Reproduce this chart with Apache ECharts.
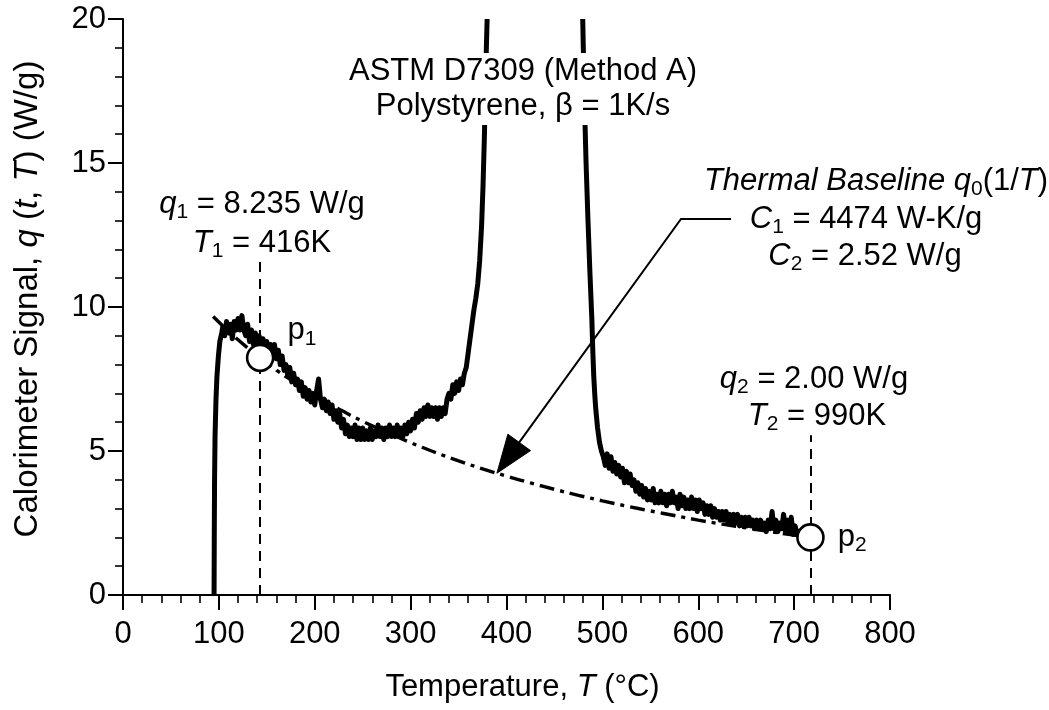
<!DOCTYPE html>
<html>
<head>
<meta charset="utf-8">
<script src="https://cdn.jsdelivr.net/npm/echarts@6/dist/echarts.min.js"></script>
<style>
  html, body { margin: 0; padding: 0; background: #ffffff; }
  #chart { width: 1049px; height: 710px; }
</style>
</head>
<body>
<div id="chart"></div>
<script>
// Calorimeter signal of polystyrene (ASTM D7309, Method A, 1 K/s).
// Signal up to the left flank of the decomposition peak: [T (°C), q (W/g)]
const signalBeforePeak = [
  [95, 0], [95.2, 2.0], [95.5, 4.0], [96, 5.5], [97, 6.8], [98, 7.6], [99.5, 8.3], [101, 8.8], [103, 9.1],
  [104, 9.3], [106, 9.0], [108, 9.5], [110, 9.1], [112, 9.4], [114, 8.9], [116, 9.5], [118, 9.2],
  [120, 9.6], [122, 9.2], [124, 9.7], [126, 9.2], [128, 9.0], [130, 9.4], [132, 8.8], [134, 9.2],
  [136, 8.7], [138, 9.1], [140, 8.6], [142, 9.0], [144, 8.5], [146, 8.9], [148, 8.4], [150, 8.8],
  [152, 8.4], [154, 8.7], [156, 8.3], [158, 8.7], [160, 8.2], [162, 8.5], [164, 8.0], [166, 8.3],
  [168, 7.8], [170, 8.0], [172, 7.6], [174, 7.9], [176, 7.4], [178, 7.7], [180, 7.3], [182, 7.5],
  [184, 7.1], [186, 7.4], [188, 6.9], [190, 7.2], [192, 6.8], [194, 7.1], [196, 6.7], [198, 7.0],
  [200, 6.6], [202, 7.1], [204, 7.5], [206, 6.8], [208, 6.5], [210, 6.8], [212, 6.4], [214, 6.7],
  [216, 6.3], [218, 6.6], [220, 6.1], [222, 6.4], [224, 6.0], [226, 6.3], [228, 5.8], [230, 6.1],
  [232, 5.6], [234, 5.9], [236, 5.5], [238, 5.8], [240, 5.5], [242, 5.9], [244, 5.4], [246, 5.8],
  [248, 5.4], [250, 5.8], [252, 5.4], [254, 5.7], [256, 5.4], [258, 5.8], [260, 5.4], [262, 5.7],
  [264, 5.5], [266, 5.9], [268, 5.5], [270, 5.8], [272, 5.4], [274, 5.8], [276, 5.5], [278, 5.9],
  [280, 5.5], [282, 5.8], [284, 5.5], [286, 5.9], [288, 5.5], [290, 5.8], [292, 5.5], [294, 5.9],
  [296, 5.6], [298, 6.0], [300, 5.7], [302, 6.1], [304, 5.8], [306, 6.3], [308, 6.0], [310, 6.4],
  [312, 6.1], [314, 6.5], [316, 6.2], [318, 6.6], [320, 6.2], [322, 6.5], [324, 6.2], [326, 6.5],
  [328, 6.1], [330, 6.5], [332, 6.2], [334, 6.5], [336, 6.3], [338, 6.8], [340, 7.0], [342, 6.8],
  [344, 7.3], [346, 7.0], [348, 7.4], [350, 7.1], [352, 7.5], [354, 7.3], [356, 7.7], [358, 7.9],
  [360, 8.4], [362, 8.9], [364, 9.4], [366, 9.9], [368, 10.3], [370, 10.8], [372, 11.6],
  [374, 12.8], [375.5, 14.2], [377, 16.0], [378, 17.6], [379, 19.0], [379.8, 20]
];

// Signal from the right flank of the peak to the end of the run
const signalAfterPeak = [
  [479.5, 20], [481, 17.5], [483, 15.0], [485, 13.0], [487, 11.2], [489, 9.6], [490, 8.5],
  [491, 7.6], [492, 7.0], [493, 6.5], [495, 5.8], [497, 5.3], [499, 5.0], [501, 4.8], [503, 4.5],
  [505, 4.9], [507, 4.4], [509, 4.8], [511, 4.3], [513, 4.6], [515, 4.2], [517, 4.5], [519, 4.1],
  [521, 4.4], [523, 3.9], [525, 4.3], [527, 3.9], [529, 4.2], [531, 3.8], [533, 4.0], [535, 3.6],
  [537, 3.9], [539, 3.5], [541, 3.8], [543, 3.4], [545, 3.7], [547, 3.3], [549, 3.6], [551, 3.3],
  [553, 3.7], [555, 3.2], [557, 3.5], [559, 3.2], [561, 3.6], [563, 3.2], [565, 3.5], [567, 3.1],
  [569, 3.5], [571, 3.2], [573, 3.6], [575, 3.2], [577, 3.4], [579, 3.0], [581, 3.5], [583, 3.1],
  [585, 3.4], [587, 3.0], [589, 3.3], [591, 3.0], [593, 3.4], [595, 3.0], [597, 3.3], [599, 2.9],
  [601, 3.3], [603, 3.0], [605, 3.2], [607, 2.8], [609, 3.1], [611, 2.8], [613, 3.1], [615, 2.7],
  [617, 3.0], [619, 2.7], [621, 2.9], [623, 2.6], [625, 2.9], [627, 2.6], [629, 2.9], [631, 2.5],
  [633, 2.8], [635, 2.5], [637, 2.8], [639, 2.5], [641, 2.8], [643, 2.4], [645, 2.7], [647, 2.4],
  [649, 2.7], [651, 2.4], [653, 2.7], [655, 2.4], [657, 2.6], [659, 2.3], [661, 2.6], [663, 2.3],
  [665, 2.6], [667, 2.3], [669, 2.5], [671, 2.2], [673, 2.6], [675, 2.3], [677, 2.9], [679, 2.3],
  [681, 2.6], [683, 2.2], [685, 2.5], [687, 2.3], [689, 2.8], [691, 2.2], [693, 2.6], [695, 2.2],
  [697, 2.7], [699, 2.1], [701, 2.4], [703, 2.1], [705, 2.3]
];

// Thermal baseline q0(1/T): [T (°C), q0 (W/g)]
const thermalBaseline = [
  [94, 9.67], [110, 9.16], [125, 8.72], [143, 8.235], [160, 7.81], [180, 7.36], [200, 6.94],
  [225, 6.46], [250, 6.03], [275, 5.66], [300, 5.29], [325, 4.96], [350, 4.66], [375, 4.38],
  [400, 4.13], [425, 3.89], [450, 3.67], [475, 3.46], [500, 3.27], [525, 3.09], [550, 2.92],
  [575, 2.76], [600, 2.60], [625, 2.46], [650, 2.33], [675, 2.20], [700, 2.08], [717, 2.00]
];

// Reference points p1 (T1 = 416 K) and p2 (T2 = 990 K) on the baseline
const refPoints = [
  { name: '1', value: [143, 8.235] },
  { name: '2', value: [717, 2.00] }
];

// Point on the baseline that the arrow indicates
const arrowTarget = [390, 4.23];

const xTicks = { min: 0, max: 800, interval: 100 };
const yTicks = { min: 0, max: 20, interval: 5 };

const FONT = "'Liberation Sans', Arial, Helvetica, sans-serif";
const FS = 31;
const SUB = 21;

function richSet(size, sub) {
  return {
    n: { fontFamily: FONT, fontSize: size, color: '#000', lineHeight: size + 6 },
    i: { fontFamily: FONT, fontSize: size, fontStyle: 'italic', color: '#000', lineHeight: size + 6 },
    s: { fontFamily: FONT, fontSize: sub, color: '#000', lineHeight: sub, verticalAlign: 'bottom' }
  };
}
const richStyles = richSet(FS, SUB);

const chart = echarts.init(document.getElementById('chart'), null, { renderer: 'canvas' });

const axisCommon = {
  axisLine: { show: true, onZero: false, lineStyle: { color: '#000', width: 2 } },
  axisTick: { show: true, inside: false, length: 15, lineStyle: { color: '#000', width: 2 } },
  minorTick: { show: true, splitNumber: 5, length: 8, lineStyle: { color: '#000', width: 1.6 } },
  splitLine: { show: false },
  axisLabel: { color: '#000', fontFamily: FONT, fontSize: 31 }
};

const guideLine = {
  symbol: 'none',
  silent: true,
  label: { show: false },
  lineStyle: { color: '#000', width: 2, type: [10, 7] }
};

const signalStyle = { color: '#000', width: 5, join: 'round', cap: 'butt' };

chart.setOption({
  animation: false,
  backgroundColor: '#ffffff',
  grid: { left: 123, right: 159, top: 19, bottom: 115, containLabel: false, outerBoundsMode: 'none' },
  xAxis: Object.assign({}, axisCommon, {
    type: 'value',
    min: xTicks.min, max: xTicks.max, interval: xTicks.interval,
    axisLabel: Object.assign({}, axisCommon.axisLabel, { margin: 24 }),
    name: 'Temperature, {i|T} (°C)',
    nameLocation: 'middle',
    nameGap: 74,
    nameTextStyle: { fontFamily: FONT, fontSize: 31, color: '#000', rich: richSet(31, 21), padding: [0, 0, 0, 32] }
  }),
  yAxis: Object.assign({}, axisCommon, {
    type: 'value',
    min: yTicks.min, max: yTicks.max, interval: yTicks.interval,
    axisLabel: Object.assign({}, axisCommon.axisLabel, { margin: 17 }),
    name: 'Calorimeter Signal, {i|q} ({i|t}, {i|T}) (W/g)',
    nameLocation: 'middle',
    nameRotate: 90,
    nameGap: 76,
    nameTextStyle: { fontFamily: FONT, fontSize: 33, color: '#000', rich: richSet(33, 22), padding: [0, 0, 0, 16] }
  }),
  series: [
    {
      name: 'baseline',
      type: 'line',
      data: thermalBaseline,
      showSymbol: false,
      smooth: true,
      z: 2,
      lineStyle: { color: '#000', width: 3.4, type: [15, 6, 4, 6] },
      markLine: Object.assign({}, guideLine, {
        data: [
          [{ coord: [143, 0] }, { coord: [143, 11.6] }],
          [{ coord: [717, 0] }, { coord: [717, 5.55] }]
        ]
      })
    },
    { name: 'signal', type: 'line', data: signalBeforePeak, showSymbol: false, z: 3, lineStyle: signalStyle },
    { name: 'signal', type: 'line', data: signalAfterPeak, showSymbol: false, z: 3, lineStyle: signalStyle },
    {
      name: 'points',
      type: 'scatter',
      data: refPoints,
      symbol: 'circle',
      symbolSize: 26,
      z: 5,
      itemStyle: { color: '#ffffff', borderColor: '#000', borderWidth: 2.6, opacity: 1 },
      label: {
        show: true,
        position: 'right',
        distance: 13,
        formatter: function (p) { return '{n|p}{s|' + p.name + '}'; },
        rich: richStyles
      },
      labelLayout: function (p) {
        return p.dataIndex === 0 ? { dy: -27 } : {};
      }
    }
  ],
  graphic: [
    // white box that the title sits on
    {
      type: 'rect', z: 9, silent: true,
      shape: { x: 346, y: 53, width: 356, height: 72 },
      style: { fill: '#ffffff' }
    },
    {
      type: 'text', x: 523, y: 71, z: 10,
      style: { text: 'ASTM D7309 (Method A)', font: FS + 'px ' + FONT, fill: '#000', align: 'center', verticalAlign: 'middle' }
    },
    {
      type: 'text', x: 523, y: 106, z: 10,
      style: { text: 'Polystyrene, β = 1K/s', font: FS + 'px ' + FONT, fill: '#000', align: 'center', verticalAlign: 'middle' }
    },
    {
      type: 'text', x: 262, y: 204, z: 10,
      style: { text: '{i|q}{s|1}{n| = 8.235 W/g}', rich: richStyles, align: 'center', verticalAlign: 'middle' }
    },
    {
      type: 'text', x: 262, y: 243, z: 10,
      style: { text: '{i|T}{s|1}{n| = 416K}', rich: richStyles, align: 'center', verticalAlign: 'middle' }
    },
    {
      type: 'text', x: 814, y: 379, z: 10,
      style: { text: '{i|q}{s|2}{n| = 2.00 W/g}', rich: richStyles, align: 'center', verticalAlign: 'middle' }
    },
    {
      type: 'text', x: 817, y: 416, z: 10,
      style: { text: '{i|T}{s|2}{n| = 990K}', rich: richStyles, align: 'center', verticalAlign: 'middle' }
    },
    {
      type: 'text', x: 876, y: 181, z: 10,
      style: { text: '{i|Thermal Baseline q}{s|0}{n|(1/}{i|T}{n|)}', rich: richStyles, align: 'center', verticalAlign: 'middle' }
    },
    {
      type: 'text', x: 866, y: 219, z: 10,
      style: { text: '{i|C}{s|1}{n| = 4474 W-K/g}', rich: richStyles, align: 'center', verticalAlign: 'middle' }
    },
    {
      type: 'text', x: 865, y: 256, z: 10,
      style: { text: '{i|C}{s|2}{n| = 2.52 W/g}', rich: richStyles, align: 'center', verticalAlign: 'middle' }
    }
  ]
});

// Arrow from the baseline legend down to the dash-dot curve
(function drawArrow() {
  const tip = chart.convertToPixel({ gridIndex: 0 }, arrowTarget);
  const start = [731, 219];
  const knee = [681, 219];
  const dx = tip[0] - knee[0], dy = tip[1] - knee[1];
  const len = Math.sqrt(dx * dx + dy * dy);
  const ux = dx / len, uy = dy / len;
  const headLen = 38, headHalf = 14;
  const base = [tip[0] - ux * headLen, tip[1] - uy * headLen];
  const nx = -uy, ny = ux;
  chart.setOption({
    graphic: [
      {
        id: 'arrowShaft', type: 'polyline', z: 10, silent: true,
        shape: { points: [start, knee, base] },
        style: { stroke: '#000', lineWidth: 2, fill: null }
      },
      {
        id: 'arrowHead', type: 'polygon', z: 10, silent: true,
        shape: { points: [tip, [base[0] + nx * headHalf, base[1] + ny * headHalf], [base[0] - nx * headHalf, base[1] - ny * headHalf]] },
        style: { fill: '#000', stroke: '#000', lineWidth: 1 }
      }
    ]
  });
})();
</script>
</body>
</html>
